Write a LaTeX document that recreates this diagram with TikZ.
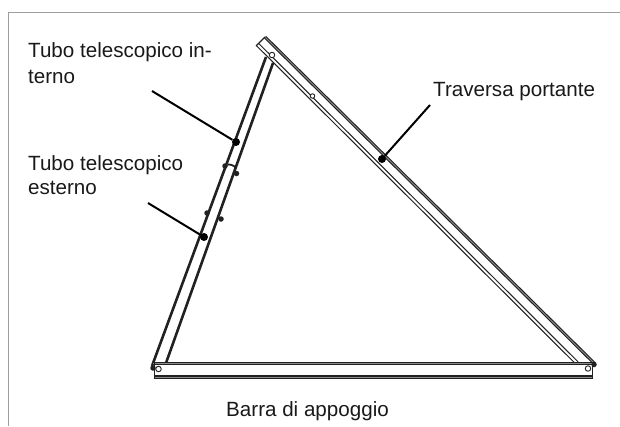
\documentclass[tikz,border=0pt]{standalone}
\usepackage{fontspec}
\setmainfont{Liberation Sans}
\definecolor{framegray}{gray}{0.62}
\definecolor{dk}{gray}{0.13}
\tikzset{
  lbl/.style={anchor=base west,inner sep=0pt,font=\fontsize{20.6}{24}\selectfont,text=black!90},
  tube/.style={draw=dk,line width=2.6pt},
  railopen/.style={draw=dk,line width=1.2pt,double=white,double distance=1.8pt},
  railclosed/.style={draw=dk,line width=1.1pt,double=black!45,double distance=.9pt},
  leader/.style={draw=black,line width=2pt},
  dot/.style={circle,fill=black,inner sep=0pt,minimum size=8pt},
  bolt/.style={circle,fill=dk,inner sep=0pt,minimum size=5.5pt},
  hole/.style={circle,draw=dk,fill=white,line width=.9pt,inner sep=0pt,minimum size=5.5pt}
}
\begin{document}
\begin{tikzpicture}[x=1pt,y=-1pt]
\useasboundingbox (0,0) rectangle (620,426);
\draw[framegray,line width=1.2pt] (620,12.5) -- (8.5,12.5) -- (8.5,426);
% traversa
\draw[railclosed] (265,37) -- (595,364);
\draw[railopen] (257.5,44.5) -- (577,363);
\draw[draw=dk,line width=1.2pt] (256,46) -- (265,37);
% telescopic tube
\draw[tube] (266,57) -- (152,366);
\draw[tube] (273,63) -- (166,363);
% barra
\draw[railclosed] (153,363.5) -- (595,363.5);
\draw[railclosed] (155,377) -- (592,377);
\draw[draw=dk,line width=1.8pt] (154.5,360) -- (154.5,379);
\draw[draw=dk,line width=1.8pt] (592.5,364) -- (592.5,379);
\node[bolt] (bl) at (153,368) {};
\node[bolt] (br) at (594,364.5) {};
\node[hole] (h1) at (158.5,369) {};
\node[hole] (h2) at (588,368.5) {};
\node[hole] (h3) at (272,55) {};
\node[hole,minimum size=4.5pt] (h4) at (312.5,96) {};
% joint
\node[bolt] (b1) at (225,166) {};
\node[bolt] (b2) at (236.5,173.5) {};
\node[bolt] (b3) at (207,213) {};
\node[bolt] (b4) at (221,219) {};
\draw[draw=dk,line width=1.8pt] (b1) .. controls (229,164) and (234,165) .. (236,168);
% leaders
\node[dot] (d1) at (236,142) {};
\node[dot] (d2) at (204,237) {};
\node[dot] (d3) at (382,159) {};
\coordinate (c1) at (152,91);
\coordinate (c2) at (148,203);
\coordinate (c3) at (430,105);
\draw[leader] (c1) -- (d1);
\draw[leader] (c2) -- (d2);
\draw[leader] (c3) -- (d3);
% labels
\node[lbl] (t1) at (28,57) {Tubo telescopico in-};
\node[lbl] (t2) at (28,83) {terno};
\node[lbl] (t3) at (28,170) {Tubo telescopico};
\node[lbl] (t4) at (28,194.5) {esterno};
\node[lbl] (t5) at (433,96) {Traversa portante};
\node[lbl] (t6) at (226,416) {Barra di appoggio};
\end{tikzpicture}
\end{document}
